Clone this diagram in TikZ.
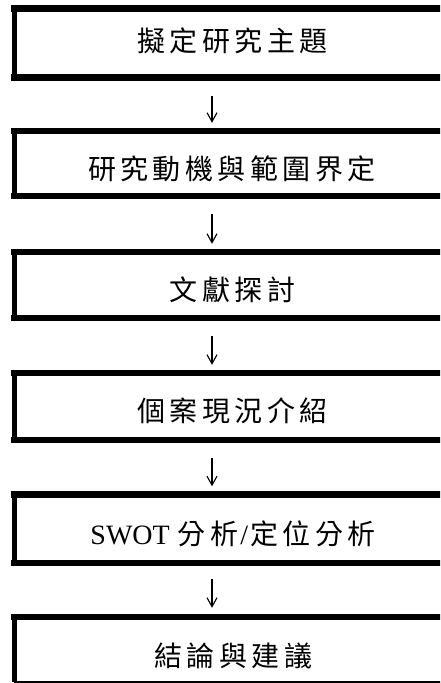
\documentclass[tikz,border=0pt]{standalone}
\usepackage{fontspec}
\setmainfont{Liberation Serif}
\newfontfamily\cjk{Noto Sans CJK TC}
\usetikzlibrary{arrows.meta}
\makeatletter
\newcommand\spcjk[1]{{\cjk\let\sp@sep\relax\@tfor\sp@c:=#1\do{\sp@sep\sp@c\def\sp@sep{\kern4.5pt}}}}
\makeatother
\tikzset{
  boxarea/.style={rectangle, inner sep=0pt, minimum width=435.5pt, draw=none},
  label/.style={inner sep=0pt, font=\fontsize{28}{30}\selectfont, anchor=center},
  thickline/.style={line width=6.5pt, line cap=rect},
  sideline/.style={line width=5pt},
  thinline/.style={line width=1.5pt},
  arr/.style={line width=1.1pt, -{Straight Barb[length=9pt,width=10pt]}},
}
\begin{document}
\begin{tikzpicture}[x=1pt,y=-1pt]
\useasboundingbox (0,0) rectangle (440,683);
\clip (0,0) rectangle (440,683);
\coordinate (ax) at (212,0);
% boxes
\node[boxarea, minimum height=69pt] (b1) at (232.25, 43) {};
\node[boxarea, minimum height=65pt] (b2) at (232.25, 163.5) {};
\node[boxarea, minimum height=66pt] (b3) at (232.25, 285) {};
\node[boxarea, minimum height=67pt] (b4) at (232.25, 406.5) {};
\node[boxarea, minimum height=68.5pt] (b5) at (232.25, 528.75) {};
\node[boxarea, minimum height=65pt] (b6) at (232.25, 649.5) {};
% labels
\node[label] (t1) at (232.5, 41)   {\spcjk{擬定研究主題}};
\node[label] (t2) at (232, 169)    {\spcjk{研究動機與範圍界定}};
\node[label] (t3) at (232.5, 290)  {\spcjk{文獻探討}};
\node[label] (t4) at (232.5, 411)  {\spcjk{個案現況介紹}};
\node[label] (t5) at (233, 533.5)  {SWOT\kern8pt\spcjk{分析}\kern2pt/\kern2pt\spcjk{定位分析}};
\node[label] (t6) at (233.5, 656)  {\spcjk{結論與建議}};
% borders
\foreach \b in {b1,b2,b3,b4,b5}{
  \draw[thickline] (\b.north west) -- (\b.north east);
  \draw[thickline] (\b.south west) -- (\b.south east);
  \draw[sideline] (\b.north west) -- (\b.south west);
}
\draw[thickline] (b6.north west) -- (b6.north east);
\draw[thinline] (b6.south west) -- (b6.south east);
\draw[sideline] (b6.north west) -- (b6.south west);
% arrows
\draw[arr, shorten <=18pt, shorten >=8pt] (b1.south -| ax) -- (b2.north -| ax);
\draw[arr, shorten <=18pt, shorten >=8pt] (b2.south -| ax) -- (b3.north -| ax);
\draw[arr, shorten <=18pt, shorten >=8pt] (b3.south -| ax) -- (b4.north -| ax);
\draw[arr, shorten <=18pt, shorten >=8pt] (b4.south -| ax) -- (b5.north -| ax);
\draw[arr, shorten <=16pt, shorten >=9pt] (b5.south -| ax) -- (b6.north -| ax);
\end{tikzpicture}
\end{document}
